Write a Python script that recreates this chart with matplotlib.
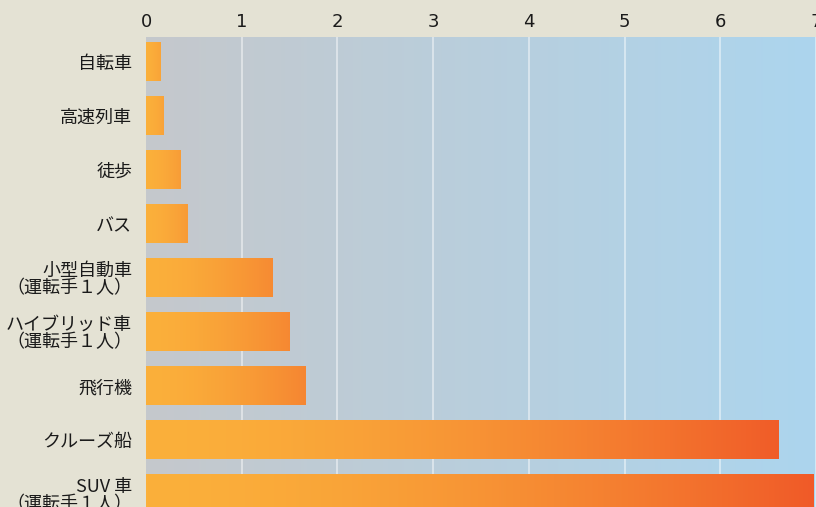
import matplotlib.pyplot as plt
import numpy as np
from matplotlib.colors import to_rgb

plt.rcParams['font.family'] = ['Noto Sans CJK JP', 'DejaVu Sans']

# data
labels = ['自転車', '高速列車', '徒歩', 'バス',
          '小型自動車\n（運転手１人）', 'ハイブリッド車\n（運転手１人）',
          '飛行機', 'クルーズ船', 'SUV 車\n（運転手１人）']
values = [0.15, 0.18, 0.36, 0.43, 1.32, 1.50, 1.67, 6.61, 6.97]
ticks = [0, 1, 2, 3, 4, 5, 6, 7]

page = '#e4e2d4'
bg_left = np.array(to_rgb('#c5c8cc'))
bg_right = np.array(to_rgb('#acd5ee'))
bar_start = np.array(to_rgb('#fbb03b'))
bar_end = np.array(to_rgb('#f05a28'))

fig = plt.figure(figsize=(8.16, 5.07), dpi=100, facecolor=page)
ax = fig.add_axes([146 / 816, 0, 670 / 816, 470 / 507])

xmax = 7
ytop, ybot = -0.463, 8.24

# background gradient grey -> light blue
t = np.linspace(0, 1, 256)
bg = bg_left[None, None, :] * (1 - t)[None, :, None] + bg_right[None, None, :] * t[None, :, None]
ax.imshow(bg, extent=[0, xmax, ybot, ytop], aspect='auto', zorder=0, interpolation='bilinear')

# vertical grid
for x in ticks[1:]:
    ax.axvline(x, color='white', lw=1.2, alpha=0.55, zorder=1)

# gradient bars
h = 0.72
for i, v in enumerate(values):
    strength = (v / xmax) ** 0.5
    end = bar_start + (bar_end - bar_start) * strength
    s = np.linspace(0, 1, 200) ** 1.6
    g = bar_start[None, None, :] * (1 - s)[None, :, None] + end[None, None, :] * s[None, :, None]
    ax.imshow(g, extent=[0, v, i + h / 2, i - h / 2], aspect='auto', zorder=2,
              interpolation='bilinear')

ax.set_xlim(0, xmax)
ax.set_ylim(ybot, ytop)

ax.set_yticks(range(len(labels)))
ax.set_yticklabels(labels, fontsize=13, linespacing=0.95)
ax.set_xticks(ticks)
ax.set_xticklabels([str(x) for x in ticks], fontsize=13, family='DejaVu Sans')
ax.xaxis.tick_top()
ax.tick_params(axis='both', length=0, colors='#1a1a1a')
ax.tick_params(axis='x', pad=4)
ax.tick_params(axis='y', pad=10)
for sp in ax.spines.values():
    sp.set_visible(False)

fig.savefig('out.png', dpi=100, facecolor=page)
